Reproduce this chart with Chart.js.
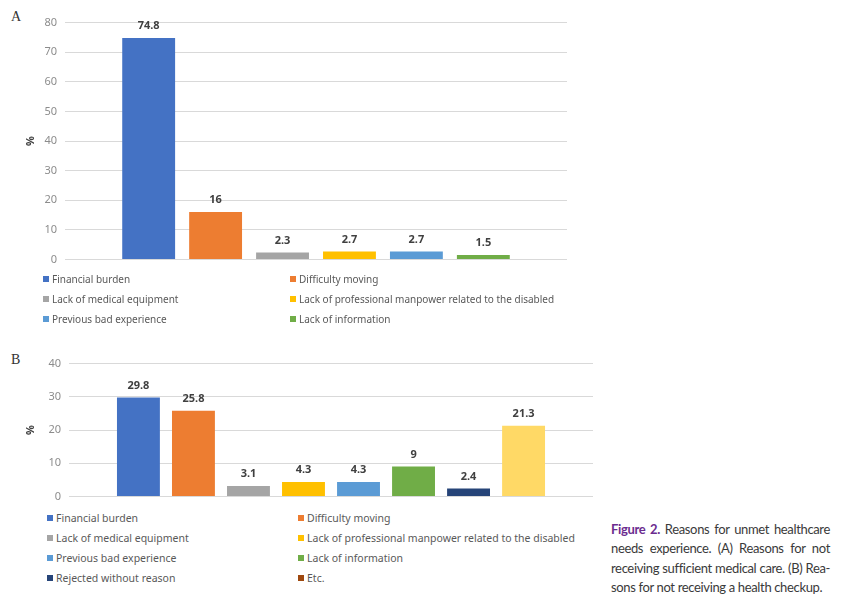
<!DOCTYPE html>
<html>
<head>
<meta charset="utf-8">
<script src="https://cdn.jsdelivr.net/npm/chart.js@4.4.1/dist/chart.umd.min.js"></script>
<style>
  body { margin: 0; background: #fff; font-family: "Noto Sans", sans-serif; }
  .panel { position: absolute; font-family: "Liberation Serif", serif; font-size: 14px; color: #333; }
  .box { position: absolute; }
  .legend { position: absolute; color: #595959; }
  .legend div { position: absolute; white-space: nowrap; line-height: 14px; }
  .legend span { display: inline-block; width: 6px; height: 6px; margin-right: 3px; vertical-align: 1px; }
  .caption { position: absolute; left: 611px; top: 520px; width: 219px; font-family: Lato, sans-serif; font-size: 13px; letter-spacing: -0.35px; color: #3a3a3a; line-height: 19.3px; }
  .caption span { display: block; text-align: justify; text-align-last: justify; white-space: nowrap; }
  .caption span.last { text-align-last: left; }
  .caption b { color: #6b2c8f; }
</style>
</head>
<body>
<div class="panel" style="left:11px;top:9px;">A</div>
<div class="box" style="left:20px;top:8px;width:560px;height:266px;"><canvas id="chartA"></canvas></div>
<div class="legend" id="legendA" style="font-size:10px;"></div>

<div class="panel" style="left:11px;top:352px;">B</div>
<div class="box" style="left:20px;top:349px;width:583px;height:162px;"><canvas id="chartB"></canvas></div>
<div class="legend" id="legendB" style="font-size:10.5px;"></div>

<div class="caption">
  <span><b>Figure 2.</b> Reasons for unmet healthcare</span>
  <span>needs experience. (A) Reasons for not</span>
  <span>receiving sufficient medical care. (B) Rea-</span>
  <span class="last">sons for not receiving a health checkup.</span>
</div>

<script>
// A: reasons for not receiving sufficient medical care
var reasonsA = ["Financial burden", "Difficulty moving", "Lack of medical equipment",
  "Lack of professional manpower related to the disabled", "Previous bad experience", "Lack of information"];
var valuesA = [74.8, 16, 2.3, 2.7, 2.7, 1.5];
var colorsA = ['#4472c4', '#ed7d31', '#a5a5a5', '#ffc000', '#5b9bd5', '#70ad47'];

// B: reasons for not receiving a health checkup
var reasonsB = ["Financial burden", "Difficulty moving", "Lack of medical equipment",
  "Lack of professional manpower related to the disabled", "Previous bad experience", "Lack of information",
  "Rejected without reason", "Etc."];
var valuesB = [29.8, 25.8, 3.1, 4.3, 4.3, 9, 2.4, 21.3];
var colorsB = ['#4472c4', '#ed7d31', '#a5a5a5', '#ffc000', '#5b9bd5', '#70ad47', '#264478', '#ffd966'];
var legendColorsB = ['#4472c4', '#ed7d31', '#a5a5a5', '#ffc000', '#5b9bd5', '#70ad47', '#264478', '#9e480e'];

var valueLabels = {
  id: 'valueLabels',
  afterDatasetsDraw: function(chart) {
    var ctx = chart.ctx;
    ctx.save();
    ctx.font = 'bold 11px "Noto Sans", sans-serif';
    ctx.fillStyle = '#404040';
    ctx.textAlign = 'center';
    ctx.textBaseline = 'middle';
    chart.data.datasets.forEach(function(ds, i) {
      chart.getDatasetMeta(i).data.forEach(function(bar, j) {
        ctx.fillText(ds.data[j], bar.x, bar.y - 12);
      });
    });
    ctx.restore();
  }
};

function makeChart(id, names, values, colors, maxY, axisWidth, pad, cp, bp) {
  var datasets = names.map(function(n, i) {
    return { label: n, data: [values[i]], backgroundColor: colors[i], borderWidth: 0 };
  });
  return new Chart(document.getElementById(id), {
    type: 'bar',
    data: { labels: [''], datasets: datasets },
    plugins: [valueLabels],
    options: {
      responsive: true,
      maintainAspectRatio: false,
      animation: false,
      layout: { padding: pad },
      categoryPercentage: cp,
      barPercentage: bp,
      plugins: { legend: { display: false }, tooltip: { enabled: false } },
      scales: {
        x: { display: false },
        y: {
          min: 0, max: maxY,
          ticks: { stepSize: 10, padding: 8, color: '#8c8c8c', font: { family: '"Noto Sans", sans-serif', size: 11 } },
          grid: { color: '#d9d9d9', drawTicks: false },
          border: { display: false },
          title: { display: true, text: '%', color: '#404040', padding: { top: 4, bottom: 0 },
            font: { family: '"Noto Sans", sans-serif', size: 11, weight: 'bold' } },
          afterFit: function(scale) { scale.width = axisWidth; }
        }
      }
    }
  });
}

function makeLegend(id, names, colors, left, top, col2, rowH) {
  var el = document.getElementById(id);
  el.style.left = left + 'px';
  el.style.top = top + 'px';
  names.forEach(function(n, i) {
    var d = document.createElement('div');
    d.style.left = (i % 2 ? col2 : 0) + 'px';
    d.style.top = Math.floor(i / 2) * rowH + 'px';
    d.innerHTML = '<span style="background:' + colors[i] + '"></span>' + n;
    el.appendChild(d);
  });
}

makeChart('chartA', reasonsA, valuesA, colorsA, 80, 45, { top: 14, right: 13, bottom: 5, left: 0 }, 0.80, 0.79);
makeChart('chartB', reasonsB, valuesB, colorsB, 40, 49, { top: 8, right: 10, bottom: 3, left: 0 }, 0.84, 0.78);
makeLegend('legendA', reasonsA, colorsA, 43, 272, 247, 20);
makeLegend('legendB', reasonsB, legendColorsB, 47, 511, 251, 20);
</script>
</body>
</html>
